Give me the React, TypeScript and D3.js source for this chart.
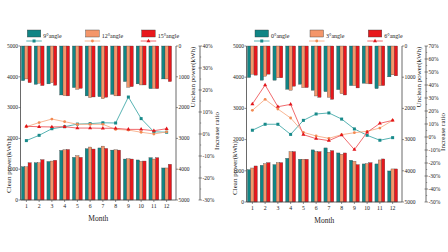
import React from "react";
import * as d3 from "d3";

const monthLabels = ["1", "2", "3", "4", "5", "6", "7", "8", "9", "10", "11", "12"];

const leftNames = ["9°angle", "12°angle", "15°angle"];
const rightNames = ["0°angle", "3°angle", "6°angle"];

const leftClean9 = [1080, 1210, 1250, 1610, 1385, 1665, 1690, 1620, 1330, 1300, 1375, 1040];
const leftClean12 = [1080, 1210, 1265, 1630, 1440, 1720, 1750, 1630, 1340, 1255, 1330, 1040];
const leftClean15 = [1210, 1310, 1290, 1640, 1385, 1655, 1675, 1620, 1330, 1265, 1375, 1160];
const leftUnclean9 = [1125, 1245, 1230, 1590, 1350, 1620, 1645, 1570, 1155, 1230, 1385, 1070];
const leftUnclean12 = [1070, 1210, 1190, 1610, 1405, 1675, 1710, 1620, 1340, 1265, 1375, 1070];
const leftUnclean15 = [1190, 1285, 1275, 1620, 1375, 1655, 1665, 1620, 1320, 1265, 1385, 1155];
const leftRatio9 = [-3, -0.6, 2.4, 3.3, 4.5, 4.7, 5.1, 5, 16.8, 7, 1, 0.8];
const leftRatio12 = [3.3, 5.2, 6.8, 5.6, 4.4, 4.4, 4.4, 2.1, 1.8, 0.8, 0, 1];
const leftRatio15 = [3.5, 3.3, 3.2, 3.3, 2.7, 2.7, 2.6, 2.6, 2.1, 2.1, 1.5, 2.4];

const rightClean0 = [1037, 1176, 1198, 1400, 1370, 1670, 1733, 1572, 1337, 1220, 1220, 995];
const rightClean3 = [1090, 1230, 1262, 1615, 1370, 1615, 1594, 1530, 1305, 1230, 1348, 1060];
const rightClean6 = [1155, 1262, 1262, 1615, 1370, 1615, 1647, 1572, 1198, 1262, 1380, 1060];
const rightUnclean0 = [1010, 1097, 1097, 1387, 1226, 1419, 1462, 1398, 1269, 1194, 1366, 989];
const rightUnclean3 = [903, 968, 1020, 1419, 1333, 1602, 1645, 1527, 1269, 1204, 1269, 925];
const rightUnclean6 = [935, 903, 1020, 1290, 1333, 1645, 1710, 1570, 1344, 1215, 1269, 957];
const rightRatio0 = [5.2, 9.8, 9.8, 2, 12.8, 17.7, 18.5, 13.8, 6.2, 1.3, -2.5, -0.5];
const rightRatio3 = [20.5, 29, 21.5, 14.6, 3.6, 0.8, -1, 1.8, 3.3, 4.4, 6.9, 12.8];
const rightRatio6 = [25.4, 40, 23.3, 25.1, 1.8, -1.3, -2.8, 1.5, -9.7, 3.6, 10.5, 12.8];

const barColors = ["#118585", "#f4966a", "#e8171c"];
const lineColors = ["#45aaaa", "#f7ae88", "#ee5a5e"];
const markColors = ["#188a8a", "#f38a52", "#e2141a"];
const FONT = "'Liberation Serif', 'Times New Roman', serif";
const AX = "#444";

type PanelProps = {
  ox: number;
  left: number;
  right: number;
  top: number;
  bottom: number;
  names: string[];
  clean: number[][];
  unclean: number[][];
  ratio: number[][];
  ratioDomain: [number, number];
  legendX: number[];
};

function Marker({ kind, x, y, color }: { kind: number; x: number; y: number; color: string }) {
  if (kind === 0) return <rect x={x - 1.5} y={y - 1.5} width={3} height={3} fill={color} />;
  if (kind === 1) return <circle cx={x} cy={y} r={1.4} fill={color} />;
  const s = d3.symbol().type(d3.symbolTriangle).size(7)();
  return <path d={s || ""} transform={`translate(${x},${y})`} fill={color} />;
}

function Panel(p: PanelProps) {
  const { left, right, top, bottom } = p;
  const x = d3.scaleBand<string>().domain(monthLabels).range([left - 0.5, right - 3]).paddingInner(0).paddingOuter(0);
  const yC = d3.scaleLinear().domain([0, 5000]).range([bottom, top]);
  const yU = d3.scaleLinear().domain([0, 5000]).range([top, bottom]);
  const yR = d3.scaleLinear().domain(p.ratioDomain).range([bottom, top]);
  const bw = 3.3;
  const ax2 = right + 24;
  const powTicks = d3.range(0, 5001, 1000);
  const ratioTicks = d3.range(p.ratioDomain[0], p.ratioDomain[1] + 0.01, 10);
  const ratioMinor = d3.range(p.ratioDomain[0] + 5, p.ratioDomain[1], 10);
  const cx = (i: number) => (x(monthLabels[i]) as number) + x.bandwidth() / 2;
  const midU = (top + bottom) / 2;

  return (
    <g>
      {/* bars */}
      {p.clean.map((s, k) =>
        s.map((v, i) => (
          <rect key={`c${k}-${i}`} x={cx(i) + (k - 1.5) * bw} y={yC(v)} width={bw} height={yC(0) - yC(v)}
            fill={barColors[k]} stroke="#3a3a3a" strokeWidth={0.3} />
        ))
      )}
      {p.unclean.map((s, k) =>
        s.map((v, i) => (
          <rect key={`u${k}-${i}`} x={cx(i) + (k - 1.5) * bw} y={yU(0)} width={bw} height={yU(v) - yU(0)}
            fill={barColors[k]} stroke="#3a3a3a" strokeWidth={0.3} />
        ))
      )}
      {/* lines */}
      {p.ratio.map((s, k) => {
        const line = d3.line<number>().x((_, i) => cx(i)).y((v) => yR(v));
        return (
          <g key={`l${k}`}>
            <path d={line(s) || ""} fill="none" stroke={lineColors[k]} strokeWidth={0.9} />
            {s.map((v, i) => (
              <Marker key={i} kind={k} x={cx(i)} y={yR(v)} color={markColors[k]} />
            ))}
          </g>
        );
      })}
      {/* axes */}
      <line x1={left} x2={left} y1={top} y2={bottom} stroke={AX} strokeWidth={0.8} />
      <line x1={right} x2={right} y1={top} y2={bottom} stroke={AX} strokeWidth={0.8} />
      <line x1={left} x2={right} y1={bottom} y2={bottom} stroke={AX} strokeWidth={0.8} />
      <line x1={ax2} x2={ax2} y1={top} y2={bottom} stroke={AX} strokeWidth={0.8} />
      {powTicks.map((t) => (
        <g key={`lt${t}`}>
          <line x1={left - 2} x2={left} y1={yC(t)} y2={yC(t)} stroke={AX} strokeWidth={0.6} />
          <text x={left - 2.5} y={yC(t)} dy="0.33em" textAnchor="end" fontSize={5.5} fontFamily={FONT} fill="#222">{t}</text>
          <line x1={right} x2={right + 2} y1={yU(t)} y2={yU(t)} stroke={AX} strokeWidth={0.6} />
          <text x={right + 2.5} y={yU(t)} dy="0.33em" textAnchor="start" fontSize={5.5} fontFamily={FONT} fill="#222">{t}</text>
        </g>
      ))}
      {ratioTicks.map((t) => (
        <g key={`rt${t}`}>
          <line x1={ax2 - 1.5} x2={ax2 + 2} y1={yR(t)} y2={yR(t)} stroke={AX} strokeWidth={0.6} />
          <text x={ax2 + 2.5} y={yR(t)} dy="0.33em" textAnchor="start" fontSize={5.5} fontFamily={FONT} fill="#222">{`${t}%`}</text>
        </g>
      ))}
      {ratioMinor.map((t) => (
        <line key={`rm${t}`} x1={ax2} x2={ax2 + 1.2} y1={yR(t)} y2={yR(t)} stroke={AX} strokeWidth={0.5} />
      ))}
      {monthLabels.map((m, i) => (
        <g key={`xt${m}`}>
          <line x1={cx(i)} x2={cx(i)} y1={bottom} y2={bottom + 2} stroke={AX} strokeWidth={0.6} />
          <text x={cx(i)} y={bottom + 6.5} dy="0.33em" textAnchor="middle" fontSize={5.8} fontFamily={FONT} fill="#222">{m}</text>
        </g>
      ))}
      <text x={(left + right) / 2} y={bottom + 19} dy="0.33em" textAnchor="middle" fontSize={7.5} fontFamily={FONT} fill="#222">Month</text>
      <text transform={`translate(${left - 12},${bottom - 34}) rotate(-90)`} dy="0.33em" textAnchor="middle" fontSize={7} fontFamily={FONT} fill="#222">Clean power(kWh)</text>
      <text transform={`translate(${right + 17},${top + 31}) rotate(-90)`} dy="0.33em" textAnchor="middle" fontSize={7} fontFamily={FONT} fill="#222">Unclean power(kWh)</text>
      <text transform={`translate(${ax2 + 17},${midU + 8}) rotate(-90)`} dy="0.33em" textAnchor="middle" fontSize={7} fontFamily={FONT} fill="#222">Increase ratio</text>
      {/* legend */}
      {p.names.map((n, k) => {
        const lx = p.legendX[k];
        return (
          <g key={`lg${k}`}>
            <rect x={lx} y={30} width={13.5} height={7} fill={barColors[k]} stroke="#3a3a3a" strokeWidth={0.4} />
            <line x1={lx - 1} x2={lx + 14.5} y1={41} y2={41} stroke={lineColors[k]} strokeWidth={0.9} />
            <Marker kind={k} x={lx + 6.75} y={41} color={markColors[k]} />
            <text x={lx + 16} y={36} dy="0.33em" fontSize={6} fontFamily={FONT} fill="#222">{n}</text>
          </g>
        );
      })}
    </g>
  );
}

export default function App() {
  return (
    <div style={{ position: "absolute", left: 0, top: 0 }}>
      <svg width={448} height={252} viewBox="0 0 448 252" style={{ display: "block", background: "#fff" }}>
        <Panel ox={0} left={20.5} right={176} top={46} bottom={200} names={leftNames}
          clean={[leftClean9, leftClean12, leftClean15]}
          unclean={[leftUnclean9, leftUnclean12, leftUnclean15]}
          ratio={[leftRatio9, leftRatio12, leftRatio15]}
          ratioDomain={[-30, 40]} legendX={[27.3, 85.7, 141.7]} />
        <Panel ox={224} left={246.5} right={402} top={46} bottom={202} names={rightNames}
          clean={[rightClean0, rightClean3, rightClean6]}
          unclean={[rightUnclean0, rightUnclean3, rightUnclean6]}
          ratio={[rightRatio0, rightRatio3, rightRatio6]}
          ratioDomain={[-50, 70]} legendX={[255, 310, 368.3]} />
      </svg>
    </div>
  );
}
